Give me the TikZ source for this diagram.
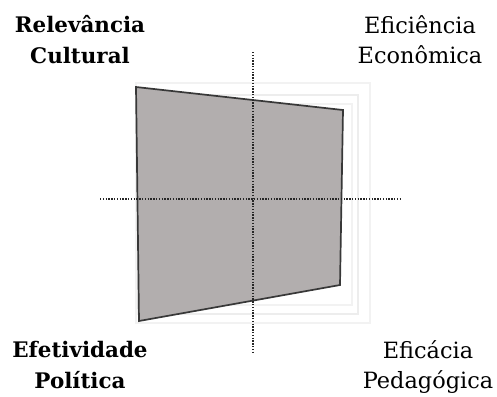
\documentclass[tikz,border=0pt]{standalone}
\usepackage{fontspec}
\setmainfont{DejaVu Serif}
\begin{document}
\begin{tikzpicture}[x=1bp,y=-1bp,
  gridline/.style={draw=#1,line width=2.2bp},
  axisline/.style={draw=black!85,line width=1.6bp,dash pattern=on 1.3bp off 1.5bp},
  datapoly/.style={draw=black!78,line width=1.7bp,fill=sharegray,line join=miter},
  lblbold/.style={align=center,font=\fontsize{21.5}{31}\selectfont\bfseries,inner sep=0pt,anchor=base},
  lblreg/.style={align=center,font=\fontsize{22.5}{30}\selectfont,inner sep=0pt,anchor=base}]
\definecolor{sharegray}{HTML}{B2AEAE}
\useasboundingbox (0,0) rectangle (497,396);
% faint grid squares
\draw[gridline=black!5] (136,83) rectangle (370,323);
\draw[gridline=black!7] (138,95) rectangle (358,314);
\draw[gridline=black!5] (139,104) rectangle (352,305);
% data polygon
\path[datapoly] (136,87) coordinate (p1) -- (343,110) coordinate (p2) -- (340,285) coordinate (p3) -- (139,321) coordinate (p4) -- cycle;
% axes
\coordinate (vt) at (253,52);
\coordinate (vb) at (253,352);
\coordinate (hl) at (100,199);
\coordinate (hr) at (400,199);
\draw[axisline] (vt) -- (vb);
\draw[axisline] (hl) -- (hr);
% labels
\node[lblbold] (rc) at (80,63) {Relevância\\Cultural};
\node[lblreg] (ee) at (420,63) {Eficiência\\Econômica};
\node[lblbold] (ep) at (80,388) {Efetividade\\Política};
\node[lblreg] (ep2) at (428,388) {Eficácia\\Pedagógica};
\end{tikzpicture}
\end{document}
